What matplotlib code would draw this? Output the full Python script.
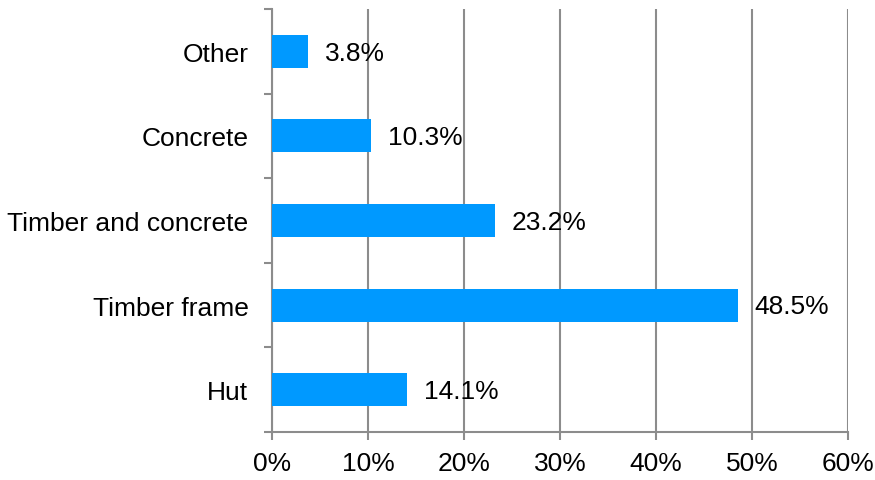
import matplotlib
matplotlib.use("Agg")
import matplotlib.pyplot as plt
from matplotlib.ticker import FixedLocator, FuncFormatter

plt.rcParams['font.family'] = ['Liberation Sans', 'DejaVu Sans']

categories = ["Hut", "Timber frame", "Timber and concrete", "Concrete", "Other"]
values = [14.1, 48.5, 23.2, 10.3, 3.8]
x_ticks = [0, 10, 20, 30, 40, 50, 60]

bar_color = "#0099FF"
axis_color = "#8C8C8C"
font_size = 19

fig = plt.figure(figsize=(8.75, 4.81), dpi=100)
ax = fig.add_axes([272 / 875, 1 - 433 / 481, (848 - 272) / 875, (433 - 10) / 481])

y = list(range(len(categories)))
ax.barh(y, values, height=0.39, color=bar_color, zorder=3)

for yi, v in zip(y, values):
    ax.annotate(f"{v:.1f}%", xy=(v, yi), xytext=(12, -1), textcoords="offset points",
                ha="left", va="center", fontsize=font_size, color="black", zorder=4)

ax.set_xlim(0, 60)
ax.set_ylim(-0.5, len(categories) - 0.5)

ax.set_xticks(x_ticks)
ax.xaxis.set_major_formatter(FuncFormatter(lambda v, p: f"{v:.0f}%"))
ax.grid(axis="x", color=axis_color, linewidth=1.5, zorder=1)

ax.set_yticks(y)
ax.set_yticklabels(categories)
ax.yaxis.set_minor_locator(FixedLocator([i - 0.5 for i in range(len(categories) + 1)]))

ax.tick_params(axis="y", which="major", length=0, pad=17, labelsize=font_size)
ax.tick_params(axis="y", which="minor", length=6, width=1.5, color=axis_color, direction="out")
ax.tick_params(axis="x", which="major", length=6, width=1.5, color=axis_color,
               direction="out", pad=8, labelsize=font_size)

for side in ("top", "right"):
    ax.spines[side].set_visible(False)
for side in ("left", "bottom"):
    ax.spines[side].set_color(axis_color)
    ax.spines[side].set_linewidth(1.5)

fig.savefig("out.png", dpi=100)
